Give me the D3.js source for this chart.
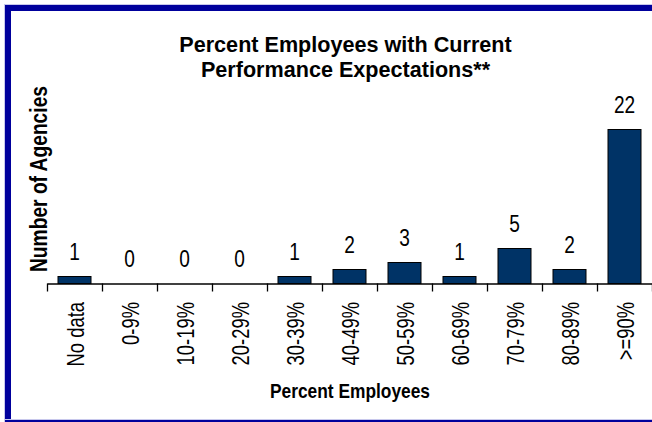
<!DOCTYPE html>
<html>
<head>
<meta charset="utf-8">
<script src="https://cdn.jsdelivr.net/npm/d3@7"></script>
<style>
  html, body { margin: 0; padding: 0; background: #fff; }
  text { font-family: "Liberation Sans", Arial, Helvetica, sans-serif; fill: #000; }
</style>
</head>
<body>
<svg class="chart"></svg>
<script>
// values
let categories = ["No data", "0-9%", "10-19%", "20-29%", "30-39%", "40-49%", "50-59%", "60-69%", "70-79%", "80-89%", ">=90%"];
let agencies = [1, 0, 0, 0, 1, 2, 3, 1, 5, 2, 22];
let titleLines = ["Percent Employees with Current", "Performance Expectations**"];
let xTitle = "Percent Employees";
let yTitle = "Number of Agencies";

let W = 652, H = 422;
let margin = {top: 108.5, right: 0, bottom: 138.5, left: 47};
let width = W - margin.left - margin.right;
let height = H - margin.top - margin.bottom;

let svg = d3.select('.chart')
    .attr('width', W)
    .attr('height', H);

// blue frame (right side is cut off in the original)
let frame = "#00009c";
svg.append('rect').attr('x', 4).attr('y', 4).attr('width', W - 4).attr('height', 1).attr('fill', '#c8c8ec');
svg.append('rect').attr('x', 4).attr('y', 4).attr('width', 1).attr('height', H - 4).attr('fill', '#c8c8ec');
svg.append('rect').attr('x', 5).attr('y', 5).attr('width', W - 5).attr('height', 6).attr('fill', frame);
svg.append('rect').attr('x', 5).attr('y', 5).attr('width', 6).attr('height', H - 5).attr('fill', frame);
svg.append('rect').attr('x', 5).attr('y', 419).attr('width', W - 5).attr('height', 1).attr('fill', '#c8c8ec');
svg.append('rect').attr('x', 5).attr('y', 420).attr('width', W - 5).attr('height', 2).attr('fill', frame);

let main = svg.append('g')
    .attr('transform', 'translate(' + margin.left + ',' + margin.top + ')');

let x = d3.scaleBand()
    .domain(categories)
    .range([0, width])
    .paddingInner(0.4)
    .paddingOuter(0.2);

let y = d3.scaleLinear()
    .domain([0, 25])
    .range([height, 0]);

// tick marks sit between the categories
let xEdges = d3.scaleLinear()
    .domain([0, categories.length])
    .range([0, width]);

main.append('g')
    .attr('class', 'xaxis')
    .attr('transform', 'translate(0,' + height + ')')
    .call(d3.axisBottom(xEdges)
        .tickValues(d3.range(0, categories.length + 1))
        .tickSize(8)
        .tickSizeOuter(0)
        .tickFormat(''))
    .call(g => g.selectAll('path, line').attr('stroke', '#000').attr('stroke-width', 1.3));

// category labels, rotated and slightly narrow
let catAxis = main.append('g')
    .attr('class', 'cats')
    .attr('transform', 'translate(0,' + height + ')')
    .call(d3.axisBottom(x).tickSize(0).tickPadding(0));
catAxis.select('.domain').remove();
catAxis.selectAll('text')
    .attr('font-size', 23)
    .attr('text-anchor', 'end')
    .attr('x', 0)
    .attr('y', 9)
    .attr('dy', null)
    .attr('transform', 'translate(0,18.5) rotate(-90) scale(0.8,1)');

// bars
main.append('g').attr('class', 'bars')
    .selectAll('rect')
    .data(agencies)
    .enter().append('rect')
    .attr('x', (d, i) => x(categories[i]))
    .attr('y', d => y(d))
    .attr('width', x.bandwidth())
    .attr('height', d => y(0) - y(d))
    .attr('fill', '#003366')
    .attr('stroke', '#000')
    .attr('stroke-width', 1);

// value labels
main.append('g').attr('class', 'values')
    .selectAll('text')
    .data(agencies)
    .enter().append('text')
    .attr('transform', (d, i) => 'translate(' + (x(categories[i]) + x.bandwidth() / 2) + ',' + (y(d) - 16.5) + ') scale(0.83,1)')
    .attr('text-anchor', 'middle')
    .attr('font-size', 23)
    .text(d => d);

// titles
svg.append('g').selectAll('text')
    .data(titleLines)
    .enter().append('text')
    .attr('x', 345.5)
    .attr('y', (d, i) => 51.5 + i * 25.5)
    .attr('text-anchor', 'middle')
    .attr('font-size', 21.6)
    .attr('font-weight', 'bold')
    .text(d => d);

svg.append('text')
    .attr('x', 350)
    .attr('y', 398)
    .attr('text-anchor', 'middle')
    .attr('font-size', 21)
    .attr('font-weight', 'bold')
    .attr('textLength', 160)
    .attr('lengthAdjust', 'spacingAndGlyphs')
    .text(xTitle);

svg.append('text')
    .attr('transform', 'translate(46.5,179) rotate(-90)')
    .attr('text-anchor', 'middle')
    .attr('font-size', 24)
    .attr('font-weight', 'bold')
    .attr('textLength', 186)
    .attr('lengthAdjust', 'spacingAndGlyphs')
    .text(yTitle);
</script>
</body>
</html>
